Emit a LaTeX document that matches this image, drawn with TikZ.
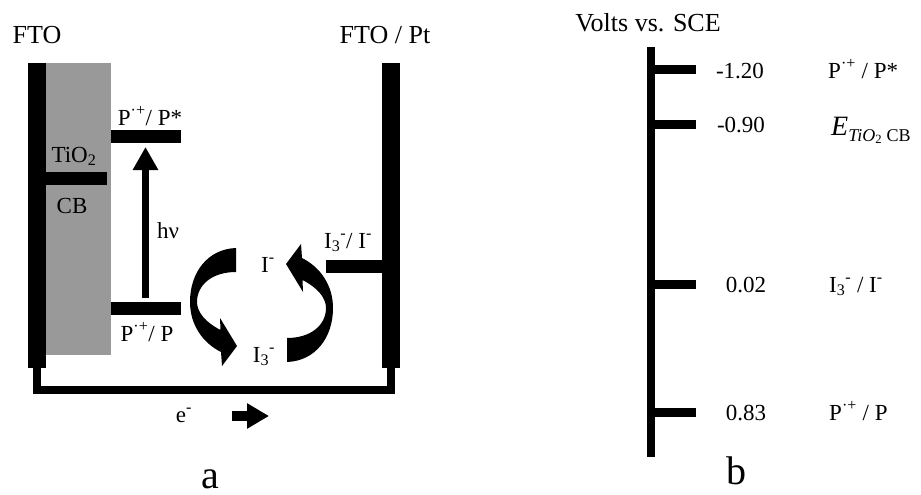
\documentclass[tikz,border=0pt]{standalone}
\usepackage{fontspec}
\setmainfont{Liberation Serif}
\usetikzlibrary{arrows.meta}

\begin{document}
\begin{tikzpicture}[x=1pt,y=-1pt,
  lbl/.style={font=\fontsize{23}{26}\selectfont,inner sep=0pt,anchor=base},
  ttl/.style={font=\fontsize{26}{30}\selectfont,inner sep=0pt,anchor=base},
  panelname/.style={font=\fontsize{40}{44}\selectfont,inner sep=0pt,anchor=base},
  bar/.style={line width=13pt},
  electrode/.style={line width=18pt},
  wire/.style={line width=8pt,line join=miter}]
  \useasboundingbox (0,0) rectangle (921,495);
  % panel a: cell
  \fill[black!40] (46,63) rectangle (111,355);
  \draw[electrode] (37,63)--(37,368);
  \draw[electrode] (391,63)--(391,368);
  \draw[wire] (36.5,368)--(36.5,389.5)--(390.5,389.5)--(390.5,368);
  \draw[bar] (46,178.5)--(107,178.5);
  \draw[bar] (111,136.5)--(181,136.5);
  \draw[bar] (111,308)--(181,308);
  \draw[bar] (326,266.5)--(382,266.5);
  \coordinate (hvlow) at (145.5,298);
  \coordinate (hvtop) at (145.5,147);
  \draw[line width=7pt,-{Triangle[width=24pt,length=23pt]}] (hvlow)--(hvtop);
  \coordinate (etail) at (232,416);
  \coordinate (ehead) at (269,416);
  \draw[line width=10pt,-{Triangle[width=24pt,length=22pt]}] (etail)--(ehead);
  % curved arrows
  \foreach \r in {0,180}{
    \fill[rotate around={\r:(261.5,305)}] (236,248) .. controls (208,249) and (190,272) .. (190,302)
      .. controls (190,325) and (203,343) .. (221,352) -- (222,366) -- (237,346) -- (220,318) -- (220.5,330)
      .. controls (205,322) and (197,312) .. (197,302) .. controls (197,285) and (212,272) .. (236,272) -- cycle;
  }
  \node[ttl] (fto) at (37,44) {FTO};
  \node[ttl] (ftopt) at (385,44) {FTO / Pt};
  \node[lbl] (tio) at (74,162) {TiO\textsubscript{2}};
  \node[lbl] (cb) at (72,213) {CB};
  \node[lbl] (pstar) at (150,125) {P\textsuperscript{·+}/ P*};
  \node[lbl] (pp) at (147,341) {P\textsuperscript{·+}/ P};
  \node[lbl] (hnu) at (168,238) {hν};
  \node[lbl] (iminus) at (268,272) {I\textsuperscript{-}};
  \node[lbl] (ithree) at (264,362) {I\textsubscript{3}\textsuperscript{-}};
  \node[lbl] (redox) at (348,248) {I\textsubscript{3}\textsuperscript{-}/ I\textsuperscript{-}};
  \node[lbl] (elec) at (184,422) {e\textsuperscript{-}};
  \node[panelname] (capa) at (210,488) {a};
  % panel b: potential scale
  \node[ttl] (volts) at (648,32) {Volts vs. SCE};
  \draw[line width=8pt] (651,47)--(651,457);
  \foreach \y/\x/\v [count=\i] in {70/740/-1.20,124/741/-0.90,284/746/0.02,412/746/0.83}{
    \draw[line width=9pt] (655,\y)--(696,\y);
    \node[lbl] (v\i) at (\x,\y+8) {\v};
  }
  \node[lbl,anchor=base west] (lvlone) at (828,78) {P\textsuperscript{·+} / P*};
  \node[lbl,anchor=base west] (lvltwo) at (831,135) {{\fontsize{28}{30}\selectfont\textit{E}}\raisebox{-6pt}{\fontsize{18}{20}\selectfont\textit{TiO}\textsubscript{2} CB}};
  \node[lbl,anchor=base west] (lvlthree) at (829,292) {I\textsubscript{3}\textsuperscript{-} / I\textsuperscript{-}};
  \node[lbl,anchor=base west] (lvlfour) at (829,420) {P\textsuperscript{·+} / P};
  \node[panelname] (capb) at (736,484) {b};
\end{tikzpicture}
\end{document}
